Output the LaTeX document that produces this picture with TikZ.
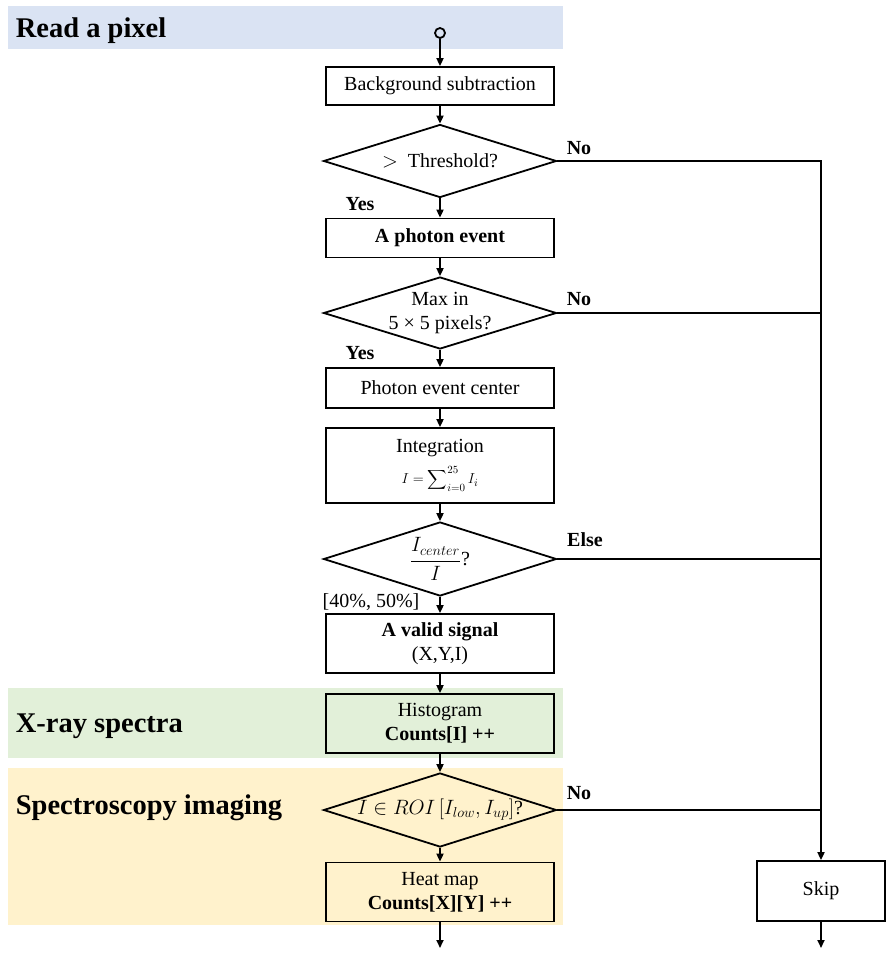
\documentclass[tikz,border=0pt]{standalone}
\usepackage{fontspec}
\usepackage{graphicx}
\setmainfont{Liberation Serif}
\usetikzlibrary{shapes.geometric,arrows.meta}
\definecolor{bandblue}{HTML}{DAE3F3}
\definecolor{bandgreen}{HTML}{E2F0D9}
\definecolor{bandorange}{HTML}{FFF2CC}
\newcommand{\bodyfnt}{\fontsize{20}{24}\selectfont}
\newcommand{\headfnt}{\fontsize{28.5}{32}\selectfont\bfseries}
\newcommand{\bigsum}{\mathop{\vcenter{\hbox{\scalebox{1.35}{$\displaystyle\sum$}}}}}
\begin{document}
\begin{tikzpicture}[x=1pt,y=-1pt,line width=1.8pt,
  box/.style={draw,line width=1.8pt,minimum width=228pt,inner sep=2pt,align=center,font=\bodyfnt},
  dec/.style={draw,diamond,aspect=3.2,minimum width=233pt,inner sep=-5pt,align=center,font=\bodyfnt,line width=1.8pt},
  arr/.style={-{Triangle[length=8pt,width=7pt]},line width=1.8pt},
  lbl/.style={font=\bodyfnt\bfseries,inner sep=1pt},
  head/.style={font=\headfnt,anchor=west,inner sep=0pt}]
\useasboundingbox (0,0) rectangle (889,956);
% bands
\fill[bandblue] (8,6) rectangle (563,49);
\fill[bandgreen] (8,688) rectangle (563,758);
\fill[bandorange] (8,768) rectangle (563,925);
\node[head] (h1) at (15,31) {Read a pixel};
\node[head] (h2) at (15,726) {X-ray spectra};
\node[head] (h3) at (15,808) {Spectroscopy imaging};
% main column
\node[circle,draw,minimum size=10pt,inner sep=0pt,line width=1.8pt] (start) at (440,33) {};
\node[box,minimum height=38pt] (bg) at (440,86) {Background subtraction};
\node[dec,minimum height=73pt] (d1) at (440,161) {$>$\ \ Threshold?};
\node[box,minimum height=39pt,font=\bodyfnt\bfseries] (ev) at (440,238) {A photon event};
\node[dec,minimum height=72pt] (d2) at (440,313) {Max in\\5 × 5 pixels?};
\node[box,minimum height=40pt] (pc) at (440,388) {Photon event center};
\node[box,minimum height=75pt] (int) at (440,465.5) {Integration\\[7pt]{\fontsize{15}{18}\selectfont $I=\bigsum\nolimits_{i=0}^{25} I_i$}};
\node[dec,minimum height=74pt] (d3) at (440,559) {$\displaystyle\frac{I_{center}}{I}$?};
\node[box,minimum height=59pt] (vs) at (440,643.5) {\textbf{A valid signal}\\(X,Y,I)};
\node[box,minimum height=59pt,fill=bandgreen] (hist) at (440,723.5) {Histogram\\\textbf{Counts[I] ++}};
\node[dec,minimum height=74pt] (d4) at (440,810) {$I\in ROI\left[I_{low},I_{up}\right]$?};
\node[box,minimum height=59pt,fill=bandorange] (heat) at (440,892) {Heat map\\\textbf{Counts[X][Y] ++}};
\node[box,minimum width=128pt,minimum height=60pt] (skip) at (821,891) {Skip};
\coordinate (end1) at (440,948);
\coordinate (end2) at (821,948);
\coordinate (top) at (821,161);
% labels
\node[lbl] (no1) at (579,148) {No};
\node[lbl] (yes1) at (360,204) {Yes};
\node[lbl] (no2) at (579,299) {No};
\node[lbl] (yes2) at (360,353) {Yes};
\node[lbl] (else) at (585,540) {Else};
\node[font=\bodyfnt,inner sep=1pt] (rng) at (371,602) {[40\%, 50\%]};
\node[lbl] (no4) at (579,793) {No};
% connectors
\draw[arr] (start) -- (bg);
\draw[arr] (bg) -- (d1);
\draw[arr] (d1) -- (ev);
\draw[arr] (ev) -- (d2);
\draw[arr] (d2) -- (pc);
\draw[arr] (pc) -- (int);
\draw[arr] (int) -- (d3);
\draw[arr] (d3) -- (vs);
\draw[arr] (vs) -- (hist);
\draw[arr] (hist) -- (d4);
\draw[arr] (d4) -- (heat);
\draw[arr] (heat) -- (end1);
\draw[arr] (skip) -- (end2);
\draw[arr] (d1.east) -- (top) -- (skip.north);
\draw (d2.east) -- (d2.east -| top);
\draw (d3.east) -- (d3.east -| top);
\draw (d4.east) -- (d4.east -| top);
\end{tikzpicture}
\end{document}
